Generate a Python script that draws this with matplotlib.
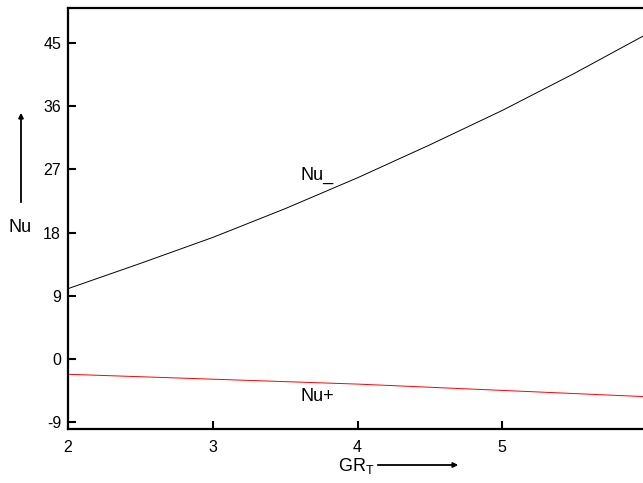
import matplotlib as mpl
mpl.use('Agg')
import matplotlib.pyplot as plt

plt.rcParams['font.family'] = ['Liberation Sans', 'DejaVu Sans']
plt.rcParams['axes.unicode_minus'] = False

gr = [2.0, 2.5, 3.0, 3.5, 4.0, 4.5, 5.0, 5.5, 6.0]
nu_minus = [10.0, 13.6, 17.3, 21.4, 25.8, 30.5, 35.4, 40.7, 46.3]
nu_plus = [-2.2, -2.55, -2.9, -3.25, -3.6, -4.05, -4.5, -4.95, -5.4]

yticks = [-9, 0, 9, 18, 27, 36, 45]
xticks = [2, 3, 4, 5, 6]

fig = plt.figure(figsize=(6.43, 4.83), dpi=100)
ax = fig.add_axes([68/643, 1 - 429/483, (647 - 68)/643, (429 - 8)/483])

ax.plot(gr, nu_minus, color='black', lw=0.7)
ax.plot(gr, nu_plus, color='red', lw=0.7)

ax.set_xlim(2, 6)
ax.set_ylim(-10, 50)
ax.set_xticks(xticks)
ax.set_yticks(yticks)
ax.tick_params(direction='in', length=6, width=1.5, labelsize=11.5, pad=5)
ax.tick_params(axis='x', pad=8)
for s in ax.spines.values():
    s.set_linewidth(1.6)

ax.text(3.72, 26.2, 'Nu_', fontsize=13, ha='center', va='center')
ax.text(3.72, -5.4, 'Nu+', fontsize=13, ha='center', va='center')

# axis labels with arrows
fig.text(20/643, 1 - 228/483, 'Nu', fontsize=13, ha='center', va='center')
fig.add_artist(mpl.patches.FancyArrowPatch((21/643, 1 - 205/483), (21/643, 1 - 110/483),
                                           transform=fig.transFigure, arrowstyle='-|>',
                                           mutation_scale=7, lw=1.3, color='black'))
fig.text(356/643, 1 - 466/483, r'GR$_\mathregular{T}$', fontsize=13, ha='center', va='center')
fig.add_artist(mpl.patches.FancyArrowPatch((375/643, 1 - 465/483), (461/643, 1 - 465/483),
                                           transform=fig.transFigure, arrowstyle='-|>',
                                           mutation_scale=7, lw=1.3, color='black'))

fig.savefig('out.png', dpi=100)
